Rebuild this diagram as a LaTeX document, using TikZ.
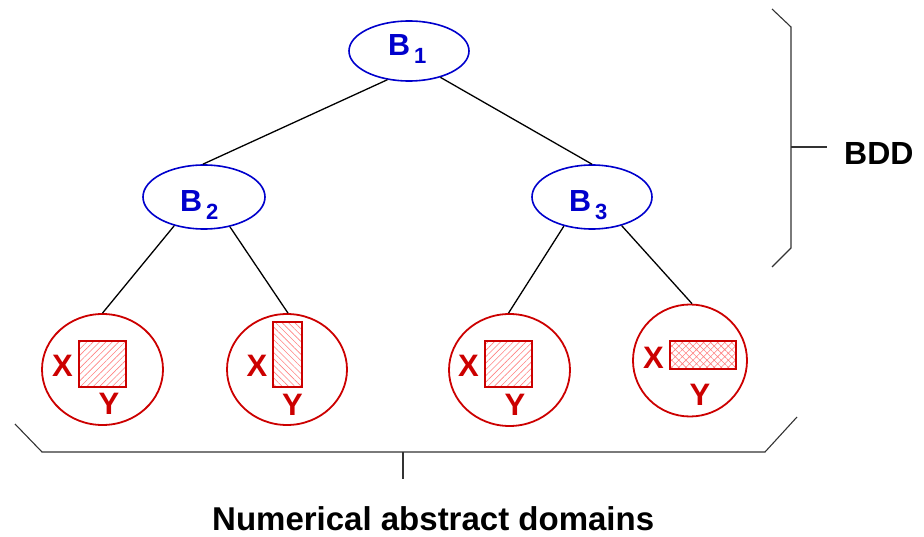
\documentclass[tikz,border=0pt]{standalone}
\usepackage{fontspec}
\setmainfont{Liberation Sans}
\usetikzlibrary{shapes.geometric,patterns.meta}
\definecolor{bblue}{RGB}{0,0,204}
\definecolor{rred}{RGB}{204,0,0}
\definecolor{hatchred}{RGB}{255,130,130}
\tikzset{
  bnode/.style={ellipse,draw=bblue,line width=1.6pt,inner sep=0pt},
  leaf/.style={ellipse,draw=rred,line width=1.8pt,inner sep=0pt},
  edge/.style={draw=black,line width=1.3pt},
  brace/.style={draw=black!80,line width=1.1pt},
  btext/.style={text=bblue,font=\bfseries\fontsize{30.5}{30.5}\selectfont,inner sep=0pt,anchor=base west},
  xytext/.style={text=rred,font=\bfseries\fontsize{31}{31}\selectfont,inner sep=0pt,anchor=base},
  box/.style={draw=rred,line width=1.2pt},
  hatchA/.style={pattern={Lines[angle=45,distance=4.5pt,line width=0.6pt]},pattern color=hatchred},
  hatchB/.style={pattern={Lines[angle=-45,distance=4.5pt,line width=0.6pt]},pattern color=hatchred},
  hatchC/.style={pattern={Hatch[angle=45,distance=5pt,line width=0.6pt]},pattern color=hatchred},
  blacktext/.style={text=black,font=\bfseries\fontsize{32}{32}\selectfont,inner sep=0pt,anchor=base west}
}
\newcommand{\bsub}[1]{\kern4pt\raisebox{-8pt}{\fontsize{22}{22}\selectfont #1}}
\begin{document}
\begin{tikzpicture}[x=1pt,y=-1pt]
\useasboundingbox (0,0) rectangle (924,537);
% BDD nodes
\node[bnode,minimum width=120pt,minimum height=60pt] (B1) at (409,51) {};
\node[bnode,minimum width=122pt,minimum height=64pt] (B2) at (204,197) {};
\node[bnode,minimum width=120pt,minimum height=64pt] (B3) at (592,197) {};
\node[btext] (tB1) at (388,56) {B\bsub{1}};
\node[btext] (tB2) at (180,212) {B\bsub{2}};
\node[btext] (tB3) at (569,212) {B\bsub{3}};
% leaves
\node[leaf,minimum width=121pt,minimum height=111pt] (L1) at (102.5,369.5) {};
\node[leaf,minimum width=120pt,minimum height=111pt] (L2) at (287,369.5) {};
\node[leaf,minimum width=121pt,minimum height=112pt] (L3) at (509.5,370) {};
\node[leaf,minimum width=114pt,minimum height=112pt] (L4) at (690,360.5) {};
% edges
\draw[edge] (B1.233) -- (B2.92);
\draw[edge] (B1.320) -- (B3.90);
\draw[edge] (B2.224) -- (L1.90);
\draw[edge] (B2.311) -- (L2.89);
\draw[edge] (B3.226) -- (L3.91);
\draw[edge] (B3.316) -- (L4.88);
% boxes
\fill[hatchA] (79,341) rectangle (126,387);
\draw[box] (79,341) rectangle (126,387);
\fill[hatchB] (273,322) rectangle (302,387);
\draw[box] (273,322) rectangle (302,387);
\fill[hatchA] (485,341) rectangle (532,387);
\draw[box] (485,341) rectangle (532,387);
\fill[hatchC] (670,341) rectangle (736,369);
\draw[box] (670,341) rectangle (736,369);
% X / Y labels
\node[xytext] (X1) at (62.5,377) {X};
\node[xytext] (Y1) at (109,414) {Y};
\node[xytext] (X2) at (257,377) {X};
\node[xytext] (Y2) at (292.5,415) {Y};
\node[xytext] (X3) at (468.5,377) {X};
\node[xytext] (Y3) at (515,415) {Y};
\node[xytext] (X4) at (653.5,368) {X};
\node[xytext] (Y4) at (700,405) {Y};
% right brace
\draw[brace] (772,9) -- (791,27) -- (791,248) -- (772,267);
\coordinate (rb) at (791,147);
\draw[brace] (rb) -- (827,147);
\node[blacktext] (bdd) at (844,165) {BDD};
% bottom brace
\draw[brace] (15,424) -- (42,452) -- (765,452) -- (797,417);
\coordinate (bb) at (403,452);
\draw[brace] (bb) -- (403,479);
\node[blacktext,font=\bfseries\fontsize{33}{33}\selectfont] (nad) at (212,530) {Numerical abstract domains};
\end{tikzpicture}
\end{document}
